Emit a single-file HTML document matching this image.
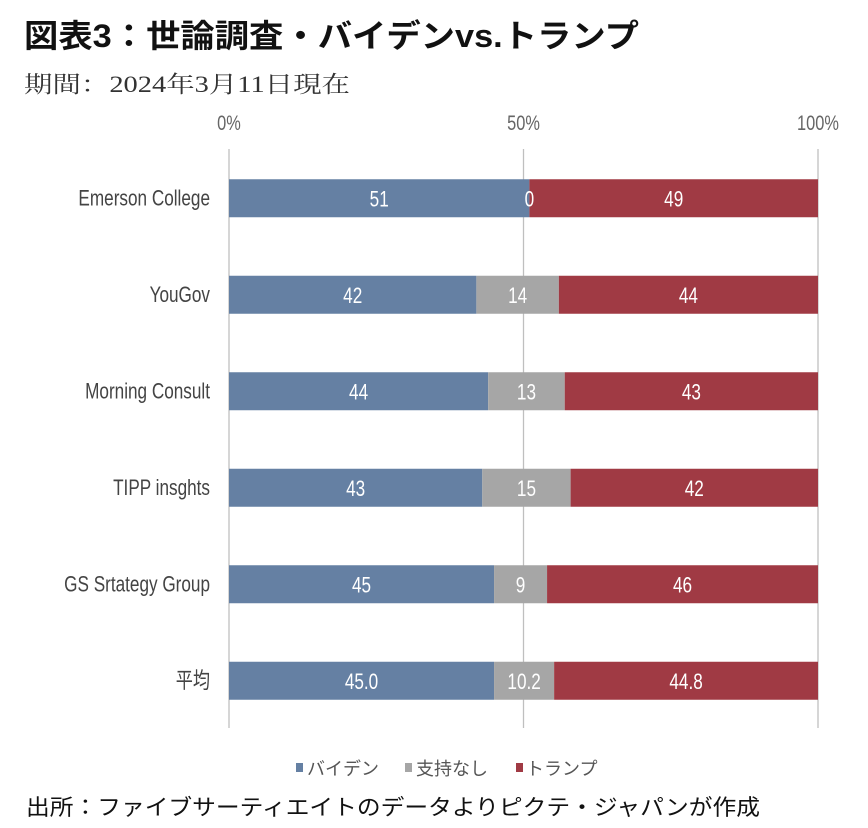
<!DOCTYPE html>
<html><head><meta charset="utf-8"><style>
body{margin:0;background:#fff;}
svg{display:block;font-family:"Liberation Sans","Noto Sans CJK JP",sans-serif;}
</style></head><body>
<svg id="c" width="868" height="828" viewBox="0 0 868 828">
<text x="24" y="47" font-size="32" font-weight="bold" fill="#111" textLength="615" lengthAdjust="spacingAndGlyphs">図表3：世論調査・バイデンvs.トランプ</text>
<text x="24" y="92" font-size="23" fill="#333" textLength="326" lengthAdjust="spacingAndGlyphs" font-family="'Liberation Serif','Noto Serif CJK SC',serif">期間：2024年3月11日現在</text>
<g id="grid"></g><g id="bars"></g><g id="labels"></g>
<g>
<rect x="296" y="763" width="7" height="9" fill="#6580a3"/>
<text x="307" y="775" font-size="18" fill="#555">バイデン</text>
<rect x="405" y="763" width="7" height="9" fill="#a6a6a6"/>
<text x="416" y="775" font-size="18" fill="#555">支持なし</text>
<rect x="516" y="763" width="7" height="9" fill="#a03a44"/>
<text x="526" y="775" font-size="18" fill="#555">トランプ</text>
</g>
<text x="26" y="815" font-size="22" fill="#111" textLength="734" lengthAdjust="spacingAndGlyphs">出所：ファイブサーティエイトのデータよりピクテ・ジャパンが作成</text>
</svg>
<script>
const categories=["Emerson College","YouGov","Morning Consult","TIPP insghts","GS Srtategy Group","平均"];
const biden=[51,42,44,43,45,45.0];
const none=[0,14,13,15,9,10.2];
const trump=[49,44,43,42,46,44.8];
const valueLabels=[["51","0","49"],["42","14","44"],["44","13","43"],["43","15","42"],["45","9","46"],["45.0","10.2","44.8"]];
const ticks=[0,50,100];
const tickLabels=["0%","50%","100%"];
const NS="http://www.w3.org/2000/svg";
const X0=229,X1=818,Y0=149,Y1=728;
const xs=v=>X0+(X1-X0)*v/100;
const band=(Y1-Y0)/categories.length;
const yc=i=>Y0+band*(i+0.5)+1;
const BH=38;
function mk(tag,attrs,parent){const e=document.createElementNS(NS,tag);for(const k in attrs)e.setAttribute(k,attrs[k]);parent.appendChild(e);return e;}
function ctext(x,y,s,size,fill,anchor,parent,sx){const t=mk('text',{transform:`translate(${x},${y}) scale(${sx||0.78},1)`,'font-size':size,fill:fill,'text-anchor':anchor},parent);t.textContent=s;return t;}
const g=document.getElementById('grid'),b=document.getElementById('bars'),l=document.getElementById('labels');
ticks.forEach((t,i)=>{
 const ln=mk('line',{x1:xs(t),x2:xs(t),y1:Y0,y2:Y1,stroke:'#bfbfbf','stroke-width':1.3},g);
 
 
 const tx=ctext(xs(t),130,tickLabels[i],21,'#666','middle',l);
 
 
});
const cols=['#6580a3','#a6a6a6','#a03a44'];
const names=['biden','none','trump'];
categories.forEach((c,i)=>{
 const vals=[biden[i],none[i],trump[i]];
 const tot=vals[0]+vals[1]+vals[2];
 let acc=0;
 const y=yc(i);
 vals.forEach((v,j)=>{
  const x=xs(acc*100/tot),w=xs((acc+v)*100/tot)-x;
  const r=mk('rect',{x:x,y:y-BH/2,width:Math.max(w,0),height:BH,fill:cols[j]},b);
  
  
  const lbl=ctext(x+w/2,y+8,valueLabels[i][j],22,'#fff','middle',l);
  
  
  acc+=v;
 });
 const cl=ctext(210,y+7,c,22,'#444','end',l);
 
 
});
</script>
</body></html>
